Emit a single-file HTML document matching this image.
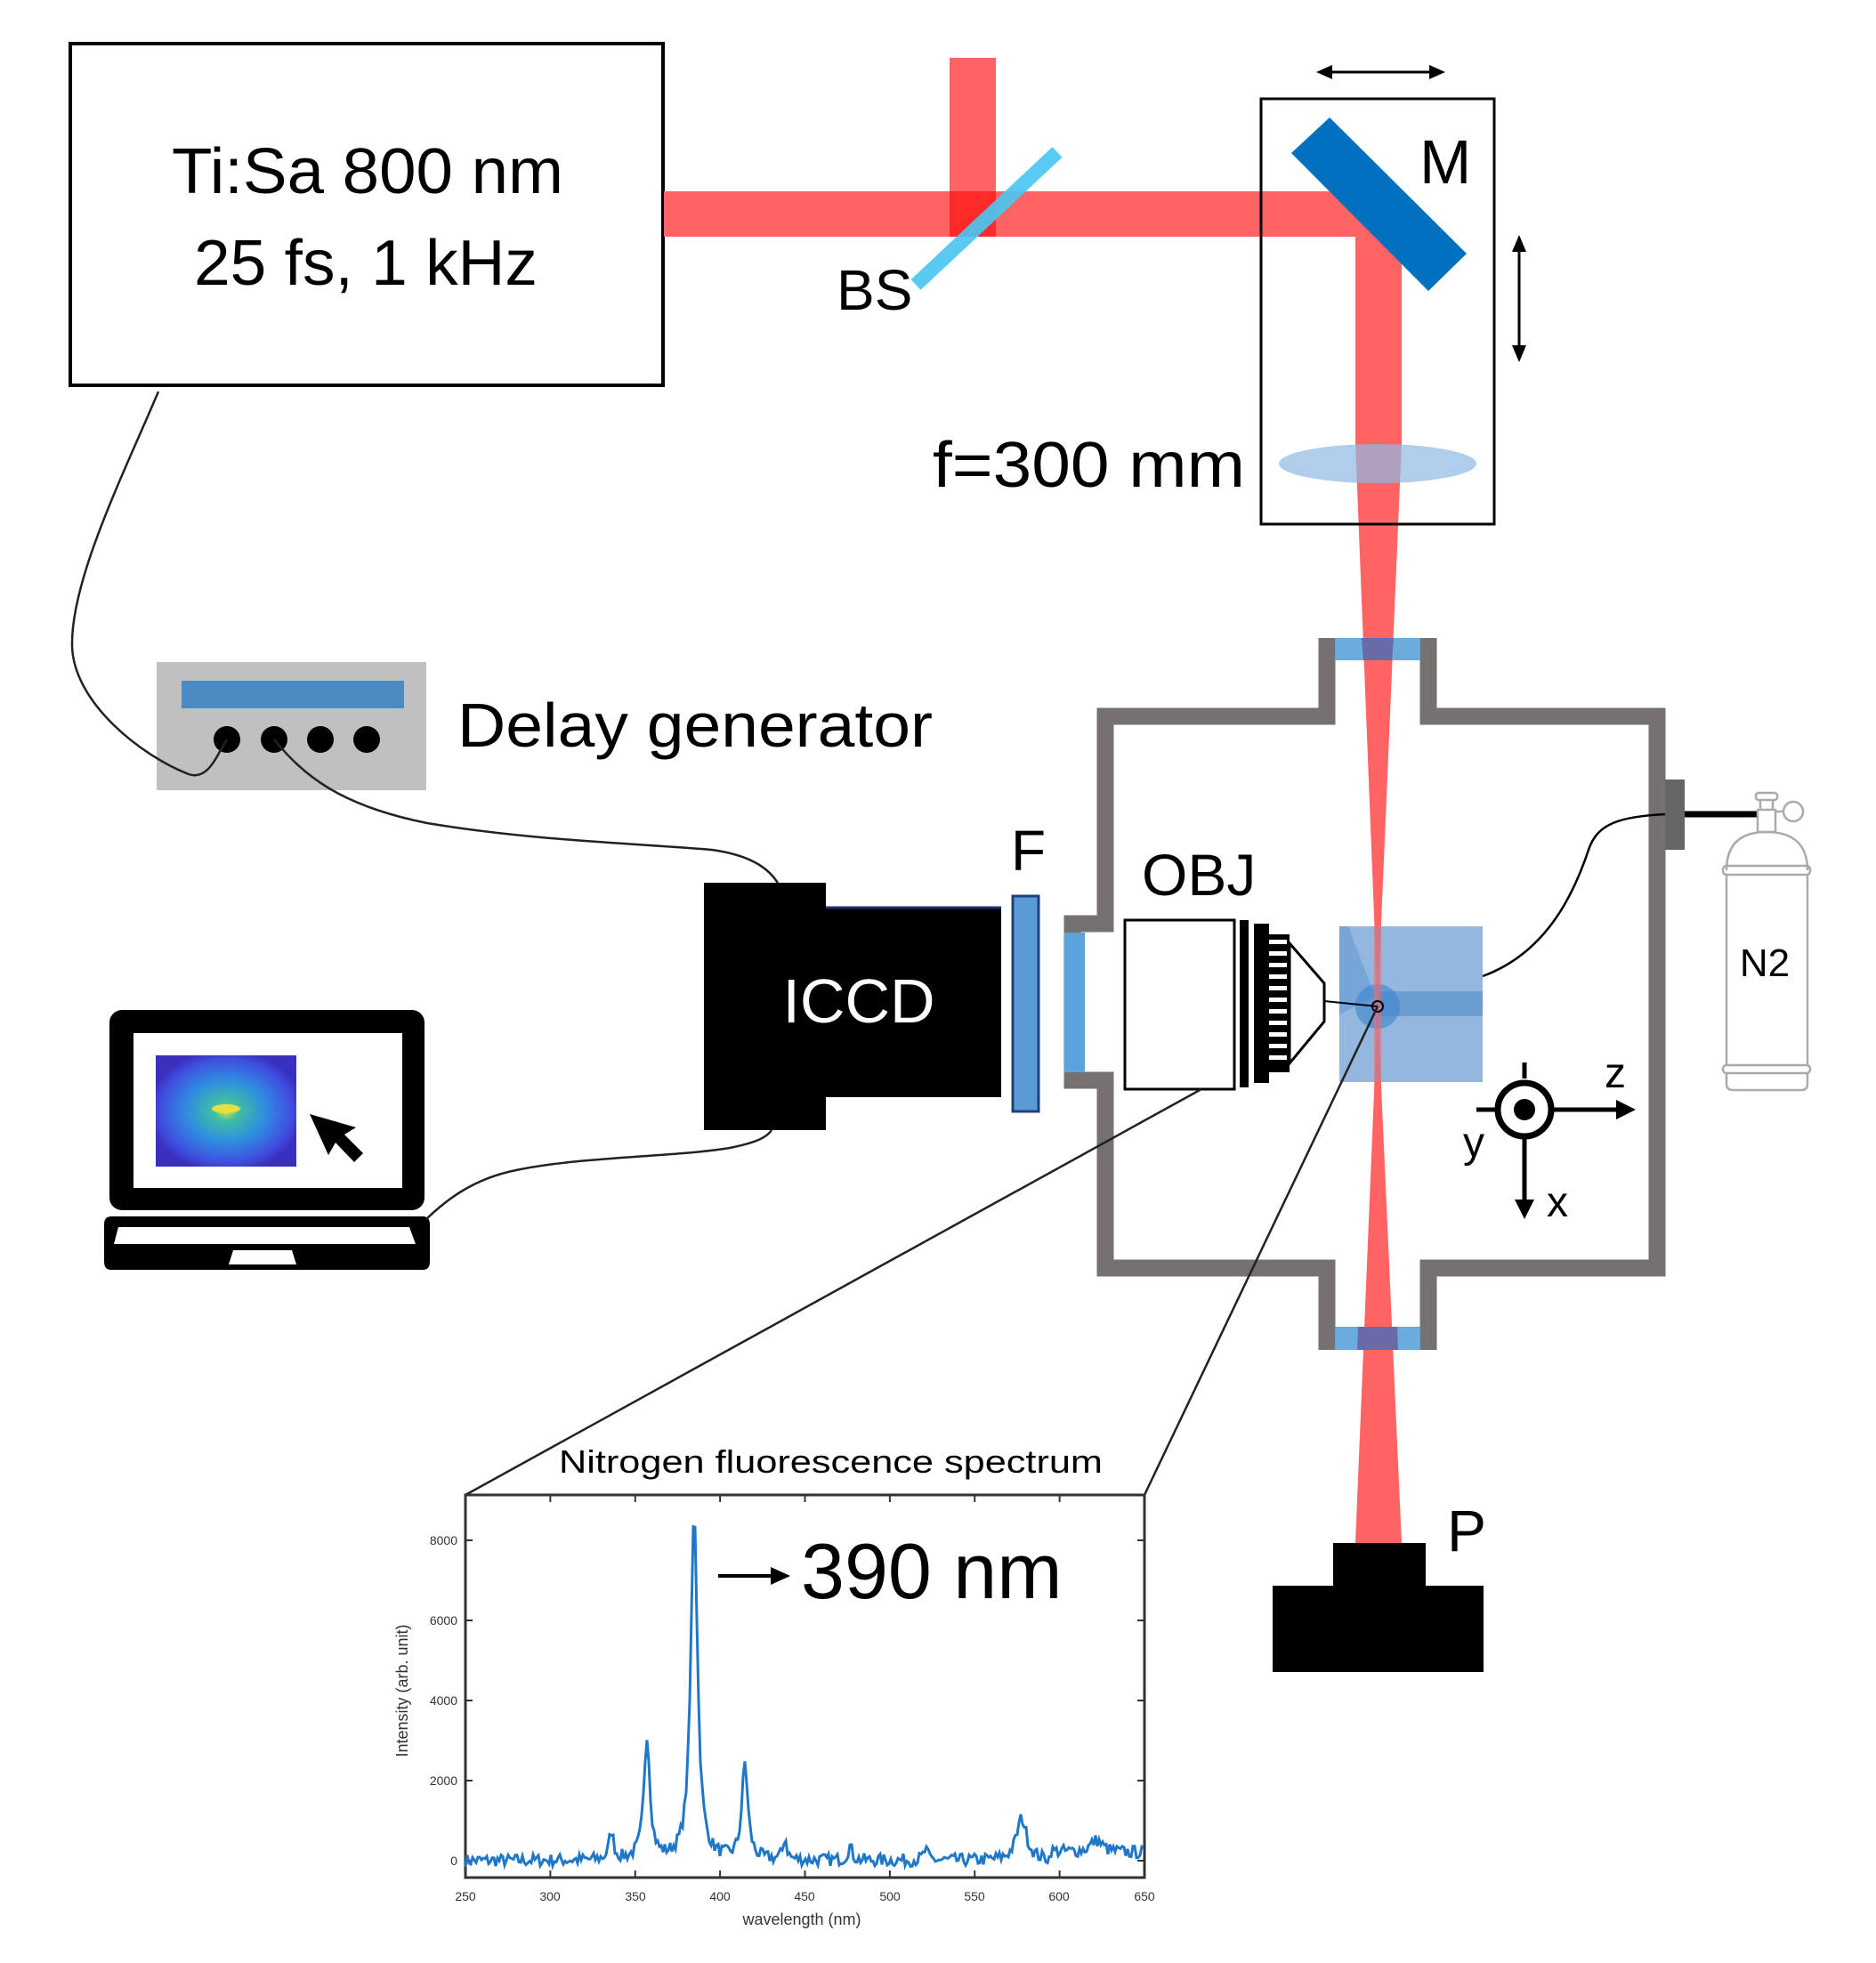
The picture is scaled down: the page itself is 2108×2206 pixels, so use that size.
<!DOCTYPE html>
<html><head><meta charset="utf-8"><style>
html,body{margin:0;padding:0;background:#fff}
svg{display:block}
text{font-family:"Liberation Sans",sans-serif}
</style></head><body>
<svg width="2108" height="2206" viewBox="0 0 2108 2206" xmlns="http://www.w3.org/2000/svg">
<defs>
<radialGradient id="img" cx="50%" cy="50%" r="55%">
<stop offset="0" stop-color="#f0e040"/>
<stop offset="0.15" stop-color="#40c0a0"/>
<stop offset="0.5" stop-color="#2f8ee0"/>
<stop offset="0.85" stop-color="#3f4ee0"/>
<stop offset="1" stop-color="#3a30c0"/>
</radialGradient>
</defs>
<!-- laser box -->
<rect x="79" y="49" width="666" height="384" fill="#fff" stroke="#000" stroke-width="4"/>
<text x="193" y="217" font-size="72" textLength="440" lengthAdjust="spacingAndGlyphs">Ti:Sa 800 nm</text>
<text x="218" y="320" font-size="72" textLength="386" lengthAdjust="spacingAndGlyphs">25 fs, 1 kHz</text>

<!-- beams -->
<rect x="746" y="215" width="829" height="51" fill="#fe6464"/>
<rect x="1067" y="65" width="52" height="201" fill="#fe6464"/>
<rect x="1067" y="215" width="52" height="51" fill="#fe2a2a"/>
<rect x="1523" y="215" width="52" height="282" fill="#fe6464"/>
<polygon points="1523,497 1575,497 1548,1131" fill="#fe6464"/>
<polygon points="1548,1131 1523,1734 1575,1734" fill="#fe6464"/>

<!-- BS -->
<line x1="1029" y1="320" x2="1188" y2="171" stroke="#4cc6f0" stroke-width="16" opacity="0.92"/>
<text x="940" y="348" font-size="64">BS</text>

<!-- M box -->
<rect x="1417" y="111" width="262" height="478" fill="none" stroke="#000" stroke-width="3"/>
<polygon points="1494,132 1451,172 1605,327 1648,285" fill="#0070c0"/>
<text x="1595" y="206" font-size="70">M</text>
<line x1="1492" y1="81" x2="1611" y2="81" stroke="#000" stroke-width="3"/>
<polygon points="1479,81 1497,73 1497,89" fill="#000"/>
<polygon points="1624,81 1606,73 1606,89" fill="#000"/>
<line x1="1707" y1="276" x2="1707" y2="395" stroke="#000" stroke-width="3"/>
<polygon points="1707,264 1699,283 1715,283" fill="#000"/>
<polygon points="1707,407 1699,388 1715,388" fill="#000"/>
<ellipse cx="1548" cy="521" rx="111" ry="22" fill="#8fb8e3" opacity="0.7"/>
<text x="1048" y="547" font-size="72" textLength="351" lengthAdjust="spacingAndGlyphs">f=300 mm</text>

<!-- chamber -->
<path d="M1491,717 V805 H1242 V1038 H1205 V1214 H1242 V1425 H1491 V1517 M1605,1517 V1425 H1862 V805 H1605 V717" fill="none" stroke="#767171" stroke-width="19"/>
<rect x="1500" y="717" width="96" height="25" fill="#5ba3dc" opacity="0.9"/>
<rect x="1500" y="1491" width="96" height="26" fill="#5ba3dc" opacity="0.9"/>
<polygon points="1530,717 1566,717 1564,742 1532,742" fill="#6b6aa8"/>
<polygon points="1526,1491 1570,1491 1571,1517 1525,1517" fill="#6b6aa8"/>
<rect x="1196" y="1048" width="23" height="157" fill="#5ba3dc"/>
<rect x="1871" y="876" width="22" height="79" fill="#666"/>
<line x1="1893" y1="915" x2="1975" y2="915" stroke="#000" stroke-width="7"/>
<g fill="none" stroke="#aaa" stroke-width="2.5">
<path d="M1940,978 C1940,945 1960,935 1985,935 C2010,935 2031,945 2031,978"/>
<rect x="1936" y="973" width="98" height="10" rx="4"/>
<path d="M1940,983 V1197 M2031,983 V1197"/>
<rect x="1936" y="1197" width="98" height="9" rx="4"/>
<path d="M1940,1206 V1218 Q1940,1225 1947,1225 H2024 Q2031,1225 2031,1218 V1206"/>
<rect x="1975" y="910" width="20" height="25"/>
<rect x="1973" y="891" width="24" height="8" rx="3"/>
<path d="M1978,899 V910 M1992,899 V910 M1995,912 H2004"/>
<circle cx="2015" cy="912" r="11"/>
</g>
<text x="1983" y="1097" font-size="44" text-anchor="middle">N2</text>
<path d="M1666,1097 C1740,1070 1770,1000 1785,955 C1795,925 1820,918 1871,915" fill="none" stroke="#000" stroke-width="2.5"/>

<!-- sample cube -->
<rect x="1505" y="1041" width="161" height="175" fill="#6f9fd3" opacity="0.75"/>
<rect x="1548" y="1114" width="118" height="28" fill="#4a86c8" opacity="0.55"/>
<polygon points="1505,1041 1515,1041 1545,1120 1505,1140" fill="#5b93d0" opacity="0.5"/>
<circle cx="1548" cy="1131" r="25" fill="#3a86d0" opacity="0.6"/>
<rect x="1544" y="1041" width="8" height="175" fill="#fe6464" opacity="0.55"/>
<circle cx="1548" cy="1131" r="6" fill="none" stroke="#000" stroke-width="2"/>

<!-- objective -->
<rect x="1264" y="1034" width="123" height="190" fill="#fff" stroke="#000" stroke-width="3"/>
<rect x="1393" y="1034" width="10" height="188" fill="#000"/>
<rect x="1409" y="1038" width="17" height="179" fill="#000"/>
<rect x="1426" y="1050" width="23" height="155" fill="#000"/>
<g fill="#fff">
<rect x="1426" y="1056" width="20" height="5"/><rect x="1426" y="1069" width="20" height="5"/><rect x="1426" y="1082" width="20" height="5"/><rect x="1426" y="1095" width="20" height="5"/><rect x="1426" y="1108" width="20" height="5"/><rect x="1426" y="1121" width="20" height="5"/><rect x="1426" y="1134" width="20" height="5"/><rect x="1426" y="1147" width="20" height="5"/><rect x="1426" y="1160" width="20" height="5"/><rect x="1426" y="1173" width="20" height="5"/><rect x="1426" y="1186" width="20" height="5"/>
</g>
<polygon points="1449,1060 1488,1105 1488,1148 1449,1195" fill="#fff" stroke="#000" stroke-width="3"/>
<line x1="1488" y1="1125" x2="1548" y2="1131" stroke="#000" stroke-width="2"/>
<text x="1283" y="1006" font-size="66">OBJ</text>

<rect x="1138" y="1007" width="29" height="242" fill="#5b9bd5" stroke="#1f3f80" stroke-width="3"/>
<text x="1136" y="978" font-size="64">F</text>

<!-- ICCD -->
<rect x="791" y="992" width="137" height="278" fill="#000"/>
<rect x="928" y="1020" width="197" height="213" fill="#000"/>
<line x1="928" y1="1020" x2="1125" y2="1020" stroke="#1f2f70" stroke-width="3"/>
<text x="965" y="1149" font-size="70" fill="#fff" text-anchor="middle">ICCD</text>

<!-- delay generator -->
<rect x="176" y="744" width="303" height="144" fill="#c0c0c0"/>
<rect x="204" y="765" width="250" height="31" fill="#4a8bc2"/>
<circle cx="255" cy="831" r="15"/><circle cx="308" cy="831" r="15"/><circle cx="360" cy="831" r="15"/><circle cx="412" cy="831" r="15"/>
<text x="514" y="839" font-size="70" textLength="534" lengthAdjust="spacingAndGlyphs">Delay generator</text>
<path d="M178,440 C140,530 80,650 81,725 C82,790 160,850 212,870 C235,878 245,845 255,831" fill="none" stroke="#222" stroke-width="2.5"/>
<path d="M308,831 C340,870 380,905 480,925 C600,945 720,948 800,955 C850,962 866,980 874,992" fill="none" stroke="#222" stroke-width="2.5"/>

<!-- laptop -->
<rect x="123" y="1135" width="354" height="225" rx="14" fill="#000"/>
<rect x="150" y="1161" width="302" height="174" fill="#fff"/>
<rect x="175" y="1186" width="158" height="125" fill="url(#img)"/>
<ellipse cx="254" cy="1246" rx="16" ry="5" fill="#e8e040"/>
<polygon points="348,1252 400,1267 387,1275 408,1296 398,1306 377,1284 369,1298" fill="#000"/>
<path d="M125,1367 H475 Q483,1367 483,1376 V1418 Q483,1427 475,1427 H125 Q117,1427 117,1418 V1376 Q117,1367 125,1367 Z" fill="#000"/>
<polygon points="133,1379 460,1379 467,1398 128,1398" fill="#fff"/>
<polygon points="262,1405 328,1405 333,1421 257,1421" fill="#fff"/>
<path d="M479,1370 C500,1350 530,1325 580,1315 C650,1300 760,1300 820,1290 C850,1284 862,1278 867,1270" fill="none" stroke="#222" stroke-width="2.5"/>

<!-- coord system -->
<line x1="1713" y1="1194" x2="1713" y2="1212" stroke="#000" stroke-width="5"/>
<line x1="1659" y1="1247" x2="1681" y2="1247" stroke="#000" stroke-width="5"/>
<circle cx="1713" cy="1247" r="30" fill="#fff" stroke="#000" stroke-width="7"/>
<circle cx="1713" cy="1247" r="12" fill="#000"/>
<line x1="1743" y1="1247" x2="1822" y2="1247" stroke="#000" stroke-width="5"/>
<polygon points="1838,1247 1816,1236 1816,1258" fill="#000"/>
<line x1="1713" y1="1277" x2="1713" y2="1352" stroke="#000" stroke-width="5"/>
<polygon points="1713,1370 1702,1348 1724,1348" fill="#000"/>
<text x="1803" y="1222" font-size="48">z</text>
<text x="1644" y="1300" font-size="48">y</text>
<text x="1738" y="1367" font-size="48">x</text>

<!-- P -->
<rect x="1498" y="1734" width="104" height="48" fill="#000"/>
<rect x="1430" y="1782" width="237" height="97" fill="#000"/>
<text x="1626" y="1743" font-size="66">P</text>

<line x1="523" y1="1680" x2="1350" y2="1224" stroke="#222" stroke-width="2.5"/>
<line x1="1286" y1="1680" x2="1548" y2="1131" stroke="#222" stroke-width="2.5"/>

<!-- spectrum -->
<text x="628" y="1655" font-size="36" textLength="611" lengthAdjust="spacingAndGlyphs">Nitrogen fluorescence spectrum</text>
<rect x="523" y="1680" width="763" height="430" fill="#fff" stroke="#333" stroke-width="3"/>
<g id="ticks" stroke="#333" stroke-width="2"></g>
<g font-size="14" fill="#333" text-anchor="middle">
<text x="523" y="2136">250</text><text x="618" y="2136">300</text><text x="714" y="2136">350</text><text x="809" y="2136">400</text><text x="904" y="2136">450</text><text x="1000" y="2136">500</text><text x="1095" y="2136">550</text><text x="1190" y="2136">600</text><text x="1286" y="2136">650</text>
<text x="901" y="2163" font-size="18">wavelength (nm)</text>
</g>
<g font-size="14" fill="#333" text-anchor="end">
<text x="514" y="2096">0</text><text x="514" y="2006">2000</text><text x="514" y="1916">4000</text><text x="514" y="1826">6000</text><text x="514" y="1736">8000</text>
</g>
<text x="0" y="0" font-size="18" fill="#333" text-anchor="middle" transform="translate(458,1900) rotate(-90)">Intensity (arb. unit)</text>
<path id="spec" d="" fill="none" stroke="#1f77c8" stroke-width="3"/>
<line x1="807" y1="1771" x2="870" y2="1771" stroke="#000" stroke-width="4"/>
<polygon points="888,1771 866,1761 866,1781" fill="#000"/>
<text x="900" y="1796" font-size="88">390 nm</text>
</svg>
<script>
(function(){
var g=document.getElementById('ticks'),s='';
for(var i=0;i<9;i++){var x=523+i*95.375;s+='<line x1="'+x+'" y1="2110" x2="'+x+'" y2="2102"/><line x1="'+x+'" y1="1680" x2="'+x+'" y2="1688"/>';}
for(var j=0;j<5;j++){var y=2091-j*90;s+='<line x1="523" y1="'+y+'" x2="531" y2="'+y+'"/><line x1="1286" y1="'+y+'" x2="1278" y2="'+y+'"/>';}
g.innerHTML=s;
var pk=[[687,700,3],[727,3100,4],[780,8800,4.5],[837,2400,4],[882,550,2.5],[955,350,3],[1040,250,3],[1148,1050,7],[1232,300,8]];
var seed=7;function r(){seed=(seed*16807)%2147483647;return seed/2147483647-0.5;}
var d='';
for(var x=523;x<=1286;x+=2){var c=r()*320+(x>1180?200:0);
for(var k=0;k<pk.length;k++){var p=pk[k],dx=(x-p[0])/p[2];c+=p[1]/(1+dx*dx);}
var y=2091-c*0.045; if(y<1695)y=1695; if(y>2108)y=2108;
d+=(d?'L':'M')+x+','+y.toFixed(1);}
document.getElementById('spec').setAttribute('d',d);
})();
</script>
</body></html>
